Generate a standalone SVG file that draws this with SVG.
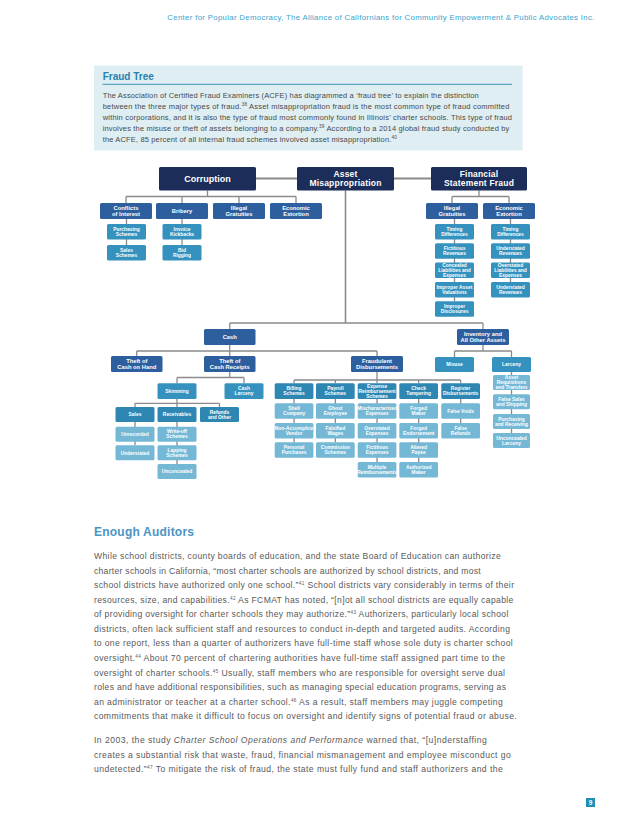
<svg xmlns="http://www.w3.org/2000/svg" width="638" height="826" viewBox="0 0 638 826">
<style>
.bg{fill:#ffffff}
.n1{fill:#1b2d58}
.n2{fill:#2d5e9e}
.n3{fill:#3592be}
.n3b{fill:#2e87b3}
.n4{fill:#74b8d6}
.l{font-family:"Liberation Sans",Arial,sans-serif;fill:#ffffff;font-weight:bold;text-anchor:middle}
.f1{font-size:9px}
.f1b{font-size:8.5px;letter-spacing:0.2px}
.f2{font-size:5.8px}
.f3{font-size:4.9px}
.c{fill:none;stroke:#8b8b8b;stroke-width:1.3}
.ct{fill:none;stroke:#8b8b8b;stroke-width:2}
.p{font-family:"Liberation Sans",Arial,sans-serif;fill:#595959}
.ft{font-size:7.5px;fill:#4a4a4a}
.bd{font-size:8.6px}
.s{font-size:4.6px}
</style>
<rect class="bg" x="0" y="0" width="638" height="826"/>

<!-- header -->
<text class="p" x="167.3" y="20.3" font-size="7.8" style="fill:#3aa3cc" textLength="427" lengthAdjust="spacing">Center for Popular Democracy, The Alliance of Californians for Community Empowerment &amp; Public Advocates Inc.</text>

<!-- Fraud Tree box -->
<g id="fraud-tree-box">
<rect x="94" y="65.5" width="428.5" height="85" fill="#deeef3"/>
<text x="102.7" y="79.7" font-family="Liberation Sans, Arial, sans-serif" font-weight="bold" font-size="10" fill="#2b7fae">Fraud Tree</text>
<line x1="102.5" y1="84.3" x2="512" y2="84.3" stroke="#2b8ab5" stroke-width="0.9"/>
<text class="p ft" x="102.7" y="97.7" textLength="376">The Association of Certified Fraud Examiners (ACFE) has diagrammed a ‘fraud tree’ to explain the distinction</text>
<text class="p ft" x="102.7" y="109" textLength="406.6">between the three major types of fraud.<tspan class="s" dy="-2.8">38</tspan><tspan dy="2.8"> Asset misappropriation fraud is the most common type of fraud committed</tspan></text>
<text class="p ft" x="102.7" y="120.3" textLength="409.3">within corporations, and it is also the type of fraud most commonly found in Illinois’ charter schools. This type of fraud</text>
<text class="p ft" x="102.7" y="131" textLength="406.6">involves the misuse or theft of assets belonging to a company.<tspan class="s" dy="-2.8">39</tspan><tspan dy="2.8"> According to a 2014 global fraud study conducted by</tspan></text>
<text class="p ft" x="102.7" y="141.7" textLength="294">the ACFE, 85 percent of all internal fraud schemes involved asset misappropriation.<tspan class="s" dy="-2.8">40</tspan></text>
</g>

<!-- connectors -->
<g id="connectors">
<path class="ct" d="M256 178.5H297M394 178.5H431"/>
<path class="c" d="M207.5 190.5V196.5M126 196.5H296M126 196.5V203M182 196.5V203M239 196.5V203M296 196.5V203"/>
<path class="c" d="M126.5 219V245M182 219V245"/>
<path class="c" d="M479 190.5V196.5M452 196.5H509M452 196.5V203M509 196.5V203M454.5 219V301.3M510.5 219V282"/>
<path class="c" style="stroke-width:1.6" d="M345.5 190.5V323"/>
<path class="c" d="M229.75 323H483M229.75 323V329M483 323V329"/>
<path class="c" d="M229.75 345V351M136.75 351H377M136.75 351V356M229.75 351V356M377 351V356"/>
<path class="c" d="M483 345V351M454.5 351H511.5M454.5 351V357M511.5 351V357M511.5 372V433"/>
<path class="c" d="M229.75 372V377.5M177 377.5H244M177 377.5V383.3M244 377.5V383.3"/>
<path class="c" d="M177 399V407M135 403.3H219.5M135 403.3V407M219.5 403.3V407M135 422V445.3M177 422V464"/>
<path class="c" d="M377 372V380M294.05 380H460.65M294.05 380V383.3M335.35 380V383.3M377.05 380V383.3M418.65 380V383.3M460.65 380V383.3"/>
<path class="c" d="M294.05 399V442.3M335.35 399V442.3M377.05 399V462M418.65 399V462M460.65 399V423"/>
</g>

<!-- top level -->
<g id="corruption"><rect class="n1" x="159" y="167" width="97" height="23.5" rx="1.5"/><text class="l f1" x="207.5" y="182">Corruption</text></g>
<g id="asset-misappropriation"><rect class="n1" x="297" y="167" width="97" height="23.5" rx="1.5"/><text class="l f1b" x="345.5" y="176.6">Asset<tspan x="345.5" y="185.7">Misappropriation</tspan></text></g>
<g id="financial-statement-fraud"><rect class="n1" x="431" y="167" width="96" height="23.5" rx="1.5"/><text class="l f1b" x="479" y="176.6">Financial<tspan x="479" y="185.7">Statement Fraud</tspan></text></g>

<!-- corruption children -->
<g id="conflicts-of-interest"><rect class="n2" x="100" y="203" width="52" height="16" rx="1.5"/><text class="l f2" x="126" y="210">Conflicts<tspan x="126" y="216">of Interest</tspan></text></g>
<g id="bribery"><rect class="n2" x="156" y="203" width="52" height="16" rx="1.5"/><text class="l f2" x="182" y="213">Bribery</text></g>
<g id="illegal-gratuities-1"><rect class="n2" x="213" y="203" width="52" height="16" rx="1.5"/><text class="l f2" x="239" y="210">Illegal<tspan x="239" y="216">Gratuities</tspan></text></g>
<g id="economic-extortion-1"><rect class="n2" x="270" y="203" width="52" height="16" rx="1.5"/><text class="l f2" x="296" y="210">Economic<tspan x="296" y="216">Extortion</tspan></text></g>
<g id="purchasing-schemes"><rect class="n3" x="107" y="224" width="39" height="15.5" rx="1.5"/><text class="l f3" x="126.5" y="230.9">Purchasing<tspan x="126.5" y="236">Schemes</tspan></text></g>
<g id="sales-schemes"><rect class="n3" x="107" y="245" width="39" height="15.5" rx="1.5"/><text class="l f3" x="126.5" y="251.9">Sales<tspan x="126.5" y="257">Schemes</tspan></text></g>
<g id="invoice-kickbacks"><rect class="n3" x="162.5" y="224" width="39" height="15.5" rx="1.5"/><text class="l f3" x="182" y="230.9">Invoice<tspan x="182" y="236">Kickbacks</tspan></text></g>
<g id="bid-rigging"><rect class="n3" x="162.5" y="245" width="39" height="15.5" rx="1.5"/><text class="l f3" x="182" y="251.9">Bid<tspan x="182" y="257">Rigging</tspan></text></g>

<!-- financial statement fraud children -->
<g id="illegal-gratuities-2"><rect class="n2" x="426" y="203" width="52" height="16" rx="1.5"/><text class="l f2" x="452" y="210">Illegal<tspan x="452" y="216">Gratuities</tspan></text></g>
<g id="economic-extortion-2"><rect class="n2" x="483" y="203" width="52" height="16" rx="1.5"/><text class="l f2" x="509" y="210">Economic<tspan x="509" y="216">Extortion</tspan></text></g>
<g id="timing-differences-1"><rect class="n3" x="435" y="224" width="39" height="15.5" rx="1.5"/><text class="l f3" x="454.5" y="230.9">Timing<tspan x="454.5" y="236">Differences</tspan></text></g>
<g id="fictitious-revenues"><rect class="n3" x="435" y="243.3" width="39" height="15.5" rx="1.5"/><text class="l f3" x="454.5" y="250.2">Fictitious<tspan x="454.5" y="255.3">Revenues</tspan></text></g>
<g id="concealed-liabilities"><rect class="n3" x="435" y="262.6" width="39" height="15.5" rx="1.5"/><text class="l f3" x="454.5" y="266.95">Concealed<tspan x="454.5" y="272.05">Liabilities and</tspan><tspan x="454.5" y="277.15">Expenses</tspan></text></g>
<g id="improper-asset-valuations"><rect class="n3" x="435" y="282" width="39" height="15.5" rx="1.5"/><text class="l f3" x="454.5" y="288.9">Improper Asset<tspan x="454.5" y="294">Valuations</tspan></text></g>
<g id="improper-disclosures"><rect class="n3" x="435" y="301.3" width="39" height="15.5" rx="1.5"/><text class="l f3" x="454.5" y="308.2">Improper<tspan x="454.5" y="313.3">Disclosures</tspan></text></g>
<g id="timing-differences-2"><rect class="n3" x="491" y="224" width="39" height="15.5" rx="1.5"/><text class="l f3" x="510.5" y="230.9">Timing<tspan x="510.5" y="236">Differences</tspan></text></g>
<g id="understated-revenues-1"><rect class="n3" x="491" y="243.3" width="39" height="15.5" rx="1.5"/><text class="l f3" x="510.5" y="250.2">Understated<tspan x="510.5" y="255.3">Revenues</tspan></text></g>
<g id="overstated-liabilities"><rect class="n3" x="491" y="262.6" width="39" height="15.5" rx="1.5"/><text class="l f3" x="510.5" y="266.95">Overstated<tspan x="510.5" y="272.05">Liabilities and</tspan><tspan x="510.5" y="277.15">Expenses</tspan></text></g>
<g id="understated-revenues-2"><rect class="n3" x="491" y="282" width="39" height="15.5" rx="1.5"/><text class="l f3" x="510.5" y="288.9">Understated<tspan x="510.5" y="294">Revenues</tspan></text></g>

<!-- asset misappropriation children -->
<g id="cash"><rect class="n2" x="204" y="329" width="51.5" height="16" rx="1.5"/><text class="l f2" x="229.75" y="339.05">Cash</text></g>
<g id="inventory"><rect class="n2" x="457" y="329" width="52" height="16" rx="1.5"/><text class="l f2" x="483" y="336.05">Inventory and<tspan x="483" y="342.05">All Other Assets</tspan></text></g>
<g id="theft-cash-on-hand"><rect class="n2" x="111" y="356" width="51.5" height="16" rx="1.5"/><text class="l f2" x="136.75" y="363.05">Theft of<tspan x="136.75" y="369.05">Cash on Hand</tspan></text></g>
<g id="theft-cash-receipts"><rect class="n2" x="204" y="356" width="51.5" height="16" rx="1.5"/><text class="l f2" x="229.75" y="363.05">Theft of<tspan x="229.75" y="369.05">Cash Receipts</tspan></text></g>
<g id="fraudulent-disbursements"><rect class="n2" x="351" y="356" width="52" height="16" rx="1.5"/><text class="l f2" x="377" y="363.05">Fraudulent<tspan x="377" y="369.05">Disbursements</tspan></text></g>
<g id="misuse"><rect class="n3" x="435" y="357" width="39" height="15" rx="1.5"/><text class="l f3" x="454.5" y="366.2">Misuse</text></g>
<g id="larceny"><rect class="n3" x="492" y="357" width="39" height="15" rx="1.5"/><text class="l f3" x="511.5" y="366.2">Larceny</text></g>
<g id="asset-requisitions"><rect class="n4" x="493" y="375" width="37" height="15" rx="1.5"/><text class="l f3" x="511.5" y="379.1">Asset<tspan x="511.5" y="384.2">Requisitions</tspan><tspan x="511.5" y="389.3">and Transfers</tspan></text></g>
<g id="false-sales"><rect class="n4" x="493" y="394.3" width="37" height="15" rx="1.5"/><text class="l f3" x="511.5" y="400.95">False Sales<tspan x="511.5" y="406.05">and Shipping</tspan></text></g>
<g id="purchasing-receiving"><rect class="n4" x="493" y="414" width="37" height="15" rx="1.5"/><text class="l f3" x="511.5" y="420.65">Purchasing<tspan x="511.5" y="425.75">and Receiving</tspan></text></g>
<g id="unconcealed-larceny"><rect class="n4" x="493" y="433" width="37" height="15" rx="1.5"/><text class="l f3" x="511.5" y="439.65">Unconcealed<tspan x="511.5" y="444.75">Larceny</tspan></text></g>

<!-- theft of cash receipts -->
<g id="skimming"><rect class="n3" x="157.5" y="383.3" width="39" height="15.7" rx="1.5"/><text class="l f3" x="177" y="392.85">Skimming</text></g>
<g id="cash-larceny"><rect class="n3" x="224.5" y="383.3" width="39" height="15.7" rx="1.5"/><text class="l f3" x="244" y="390.3">Cash<tspan x="244" y="395.4">Larceny</tspan></text></g>
<g id="sales"><rect class="n3b" x="115.5" y="407" width="39" height="15" rx="1.5"/><text class="l f3" x="135" y="416.2">Sales</text></g>
<g id="receivables"><rect class="n3b" x="157.5" y="407" width="39" height="15" rx="1.5"/><text class="l f3" x="177" y="416.2">Receivables</text></g>
<g id="refunds-other"><rect class="n3b" x="200" y="407" width="39" height="15" rx="1.5"/><text class="l f3" x="219.5" y="413.65">Refunds<tspan x="219.5" y="418.75">and Other</tspan></text></g>
<g id="unrecorded"><rect class="n4" x="115.5" y="426.7" width="39" height="15" rx="1.5"/><text class="l f3" x="135" y="435.9">Unrecorded</text></g>
<g id="understated"><rect class="n4" x="115.5" y="445.3" width="39" height="15" rx="1.5"/><text class="l f3" x="135" y="454.5">Understated</text></g>
<g id="write-off"><rect class="n4" x="157.5" y="426.7" width="39" height="15" rx="1.5"/><text class="l f3" x="177" y="433.35">Write-off<tspan x="177" y="438.45">Schemes</tspan></text></g>
<g id="lapping"><rect class="n4" x="157.5" y="445.3" width="39" height="15" rx="1.5"/><text class="l f3" x="177" y="451.95">Lapping<tspan x="177" y="457.05">Schemes</tspan></text></g>
<g id="unconcealed"><rect class="n4" x="157.5" y="464" width="39" height="15" rx="1.5"/><text class="l f3" x="177" y="473.2">Unconcealed</text></g>

<!-- fraudulent disbursements -->
<g id="billing-schemes"><rect class="n3b" x="274.7" y="383.3" width="38.7" height="15.7" rx="1.5"/><text class="l f3" x="294.05" y="390.3">Billing<tspan x="294.05" y="395.4">Schemes</tspan></text></g>
<g id="payroll-schemes"><rect class="n3b" x="316" y="383.3" width="38.7" height="15.7" rx="1.5"/><text class="l f3" x="335.35" y="390.3">Payroll<tspan x="335.35" y="395.4">Schemes</tspan></text></g>
<g id="expense-reimbursement"><rect class="n3b" x="357.7" y="383.3" width="38.7" height="15.7" rx="1.5"/><text class="l f3" x="377.05" y="387.75">Expense<tspan x="377.05" y="392.85">Reimbursement</tspan><tspan x="377.05" y="397.95">Schemes</tspan></text></g>
<g id="check-tampering"><rect class="n3b" x="399.3" y="383.3" width="38.7" height="15.7" rx="1.5"/><text class="l f3" x="418.65" y="390.3">Check<tspan x="418.65" y="395.4">Tampering</tspan></text></g>
<g id="register-disbursements"><rect class="n3b" x="441.3" y="383.3" width="38.7" height="15.7" rx="1.5"/><text class="l f3" x="460.65" y="390.3">Register<tspan x="460.65" y="395.4">Disbursements</tspan></text></g>

<g id="shell-company"><rect class="n4" x="274.7" y="403.3" width="38.7" height="15.4" rx="1.5"/><text class="l f3" x="294.05" y="410.15">Shell<tspan x="294.05" y="415.25">Company</tspan></text></g>
<g id="non-accomplice-vendor"><rect class="n4" x="274.7" y="423" width="38.7" height="15.4" rx="1.5"/><text class="l f3" x="294.05" y="429.85">Non-Accomplice<tspan x="294.05" y="434.95">Vendor</tspan></text></g>
<g id="personal-purchases"><rect class="n4" x="274.7" y="442.3" width="38.7" height="15.4" rx="1.5"/><text class="l f3" x="294.05" y="449.15">Personal<tspan x="294.05" y="454.25">Purchases</tspan></text></g>
<g id="ghost-employee"><rect class="n4" x="316" y="403.3" width="38.7" height="15.4" rx="1.5"/><text class="l f3" x="335.35" y="410.15">Ghost<tspan x="335.35" y="415.25">Employee</tspan></text></g>
<g id="falsified-wages"><rect class="n4" x="316" y="423" width="38.7" height="15.4" rx="1.5"/><text class="l f3" x="335.35" y="429.85">Falsified<tspan x="335.35" y="434.95">Wages</tspan></text></g>
<g id="commission-schemes"><rect class="n4" x="316" y="442.3" width="38.7" height="15.4" rx="1.5"/><text class="l f3" x="335.35" y="449.15">Commission<tspan x="335.35" y="454.25">Schemes</tspan></text></g>
<g id="mischaracterized-expenses"><rect class="n4" x="357.7" y="403.3" width="38.7" height="15.4" rx="1.5"/><text class="l f3" x="377.05" y="410.15">Mischaracterized<tspan x="377.05" y="415.25">Expenses</tspan></text></g>
<g id="overstated-expenses"><rect class="n4" x="357.7" y="423" width="38.7" height="15.4" rx="1.5"/><text class="l f3" x="377.05" y="429.85">Overstated<tspan x="377.05" y="434.95">Expenses</tspan></text></g>
<g id="fictitious-expenses"><rect class="n4" x="357.7" y="442.3" width="38.7" height="15.4" rx="1.5"/><text class="l f3" x="377.05" y="449.15">Fictitious<tspan x="377.05" y="454.25">Expenses</tspan></text></g>
<g id="multiple-reimbursements"><rect class="n4" x="357.7" y="462" width="38.7" height="15.4" rx="1.5"/><text class="l f3" x="377.05" y="468.85">Multiple<tspan x="377.05" y="473.95">Reimbursements</tspan></text></g>
<g id="forged-maker"><rect class="n4" x="399.3" y="403.3" width="38.7" height="15.4" rx="1.5"/><text class="l f3" x="418.65" y="410.15">Forged<tspan x="418.65" y="415.25">Maker</tspan></text></g>
<g id="forged-endorsement"><rect class="n4" x="399.3" y="423" width="38.7" height="15.4" rx="1.5"/><text class="l f3" x="418.65" y="429.85">Forged<tspan x="418.65" y="434.95">Endorsement</tspan></text></g>
<g id="altered-payee"><rect class="n4" x="399.3" y="442.3" width="38.7" height="15.4" rx="1.5"/><text class="l f3" x="418.65" y="449.15">Altered<tspan x="418.65" y="454.25">Payee</tspan></text></g>
<g id="authorized-maker"><rect class="n4" x="399.3" y="462" width="38.7" height="15.4" rx="1.5"/><text class="l f3" x="418.65" y="468.85">Authorized<tspan x="418.65" y="473.95">Maker</tspan></text></g>
<g id="false-voids"><rect class="n4" x="441.3" y="403.3" width="38.7" height="15.4" rx="1.5"/><text class="l f3" x="460.65" y="412.7">False Voids</text></g>
<g id="false-refunds"><rect class="n4" x="441.3" y="423" width="38.7" height="15.4" rx="1.5"/><text class="l f3" x="460.65" y="429.85">False<tspan x="460.65" y="434.95">Refunds</tspan></text></g>

<!-- Enough Auditors section -->
<text x="94" y="535.5" font-family="Liberation Sans, Arial, sans-serif" font-weight="bold" font-size="12" fill="#4a94c4" textLength="100">Enough Auditors</text>
<text class="p bd" x="94" y="559" textLength="406.7">While school districts, county boards of education, and the state Board of Education can authorize</text>
<text class="p bd" x="94" y="573.7" textLength="386.7">charter schools in California, “most charter schools are authorized by school districts, and most</text>
<text class="p bd" x="94" y="588.3" textLength="420">school districts have authorized only one school.”<tspan class="s" dy="-3.2">41</tspan><tspan dy="3.2"> School districts vary considerably in terms of their</tspan></text>
<text class="p bd" x="94" y="603" textLength="419.3">resources, size, and capabilities.<tspan class="s" dy="-3.2">42</tspan><tspan dy="3.2"> As FCMAT has noted, “[n]ot all school districts are equally capable</tspan></text>
<text class="p bd" x="94" y="617.3" textLength="414.3">of providing oversight for charter schools they may authorize.”<tspan class="s" dy="-3.2">43</tspan><tspan dy="3.2"> Authorizers, particularly local school</tspan></text>
<text class="p bd" x="94" y="632" textLength="416">districts, often lack sufficient staff and resources to conduct in-depth and targeted audits. According</text>
<text class="p bd" x="94" y="646.3" textLength="418.7">to one report, less than a quarter of authorizers have full-time staff whose sole duty is charter school</text>
<text class="p bd" x="94" y="661" textLength="411">oversight.<tspan class="s" dy="-3.2">44</tspan><tspan dy="3.2"> About 70 percent of chartering authorities have full-time staff assigned part time to the</tspan></text>
<text class="p bd" x="94" y="675.7" textLength="411">oversight of charter schools.<tspan class="s" dy="-3.2">45</tspan><tspan dy="3.2"> Usually, staff members who are responsible for oversight serve dual</tspan></text>
<text class="p bd" x="94" y="690.3" textLength="412">roles and have additional responsibilities, such as managing special education programs, serving as</text>
<text class="p bd" x="94" y="705" textLength="408.7">an administrator or teacher at a charter school.<tspan class="s" dy="-3.2">46</tspan><tspan dy="3.2"> As a result, staff members may juggle competing</tspan></text>
<text class="p bd" x="94" y="719.3" textLength="422.7">commitments that make it difficult to focus on oversight and identify signs of potential fraud or abuse.</text>
<text class="p bd" x="94" y="743.3" textLength="392.7">In 2003, the study <tspan font-style="italic">Charter School Operations and Performance</tspan> warned that, “[u]nderstaffing</text>
<text class="p bd" x="94" y="757.7" textLength="416.7">creates a substantial risk that waste, fraud, financial mismanagement and employee misconduct go</text>
<text class="p bd" x="94" y="772" textLength="408.7">undetected.”<tspan class="s" dy="-3.2">47</tspan><tspan dy="3.2"> To mitigate the risk of fraud, the state must fully fund and staff authorizers and the</tspan></text>

<!-- page number -->
<g id="page-number">
<rect x="586" y="798" width="9" height="9" fill="#1f8fb8"/>
<text x="590.5" y="805.2" font-family="Liberation Sans, Arial, sans-serif" font-weight="bold" font-size="6.5" fill="#ffffff" text-anchor="middle">9</text>
</g>
</svg>
